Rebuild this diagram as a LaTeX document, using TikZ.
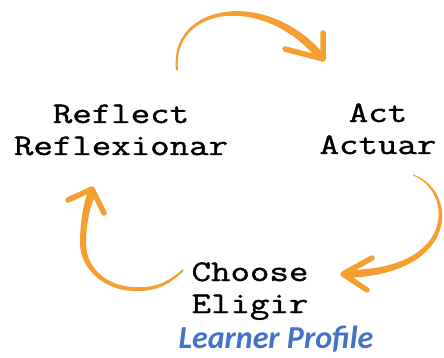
\documentclass[tikz,border=0pt]{standalone}
\usepackage{fontspec}
\newfontfamily\typefont{Latin Modern Mono}[FakeStretch=1.26, FakeBold=1.2]
\newfontfamily\profilefont{Carlito}
\definecolor{arroworange}{RGB}{245,158,50}
\definecolor{profileblue}{RGB}{68,114,196}

\begin{document}
\begin{tikzpicture}[x=1pt, y=-1pt,
    word/.style={font=\typefont\fontsize{30}{32}\selectfont, align=center,
            inner sep=0pt, anchor=base},
    brush/.style={fill=arroworange},
    barb/.style={draw=arroworange, line width=5.5pt, line cap=round,
            line join=round}]

  \useasboundingbox (0,0) rectangle (444,358);

  % anchor=base sits on the last line
  \node[word] (reflect) at (121,155) {Reflect\\Reflexionar};
  \node[word] (act) at (378,154) {Act\\Actuar};
  \node[word] (choose) at (250,313) {Choose\\Eligir};
  \node[font=\profilefont\bfseries\itshape\fontsize{32}{32}\selectfont,
        text=profileblue, inner sep=0pt, anchor=base] (profile) at (276,348)
        {Learner Profile};

  % reflect -> act
  \coordinate (tip1) at (323,59);
  \fill[brush] (176,70) .. controls (168.4,3.8) and (266.3,-13.5) .. (324,54.3)
    -- (318,59.7) .. controls (263.7,-6.5) and (171.6,6.2) .. (178,70) -- cycle;
  \draw[barb] (285,49) -- (tip1) -- (323,33);

  % act -> choose
  \coordinate (tip2) at (343,274);
  \fill[brush] (413,174.5) .. controls (457,189) and (463,274) .. (346,278)
    -- (346,270) .. controls (457,270) and (453,191) .. (413,175.5) -- cycle;
  \draw[barb] (372,258) -- (tip2) -- (367,290);

  % choose -> reflect
  \coordinate (tip3) at (92,189);
  \fill[brush] (183.8,270.6) .. controls (168.5,286.5) and (152,292) .. (133,291)
    .. controls (104,290) and (80.3,269) .. (80,243)
    .. controls (80,221.5) and (83.5,204) .. (88.3,190.5)
    -- (95.7,193.5) .. controls (90.5,206.4) and (86,222.5) .. (86,243)
    .. controls (85.7,267) and (106,286) .. (133,287)
    .. controls (152,288.5) and (167.5,283.5) .. (182.2,269.4) -- cycle;
  \draw[barb] (68,200) -- (tip3) -- (104,213);
\end{tikzpicture}
\end{document}
